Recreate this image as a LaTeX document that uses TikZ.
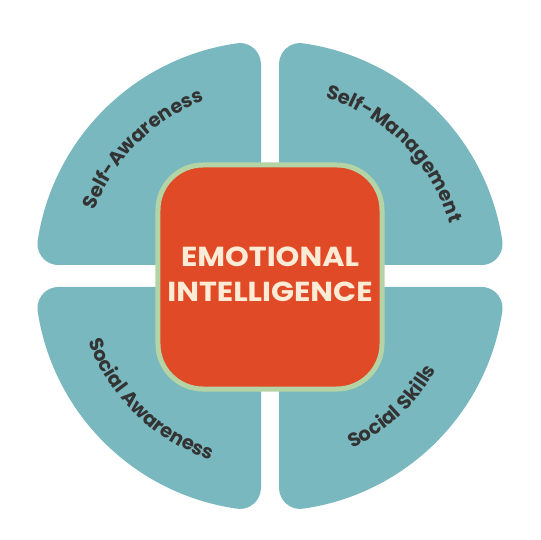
\documentclass[tikz,border=0pt]{standalone}
\usepackage{fontspec}
\setmainfont{Poppins}
\usetikzlibrary{decorations.text}
\definecolor{petal}{HTML}{7AB8BF}
\definecolor{core}{HTML}{E04A27}
\definecolor{rim}{HTML}{B4D4A6}
\definecolor{cream}{HTML}{FDEBD5}
\definecolor{ink}{HTML}{333333}
% geometry in units of 10px
\pgfmathsetmacro\Rr{23.5}
\pgfmathsetmacro\rr{2.1}
\pgfmathsetmacro\gx{0.9}
\pgfmathsetmacro\gy{1.1}
\pgfmathsetmacro\yA{10*sqrt((\Rr-\rr)^2-(\gx+\rr)^2)}
\pgfmathsetmacro\tA{atan2(\yA/10,-(\gx+\rr))}
\pgfmathsetmacro\xB{-10*sqrt((\Rr-\rr)^2-(\gy+\rr)^2)}
\pgfmathsetmacro\tB{atan2(\gy+\rr,\xB/10)}
\pgfmathsetmacro\gxp{10*\gx}
\pgfmathsetmacro\gyp{10*\gy}
\pgfmathsetmacro\rp{10*\rr}
\pgfmathsetmacro\Rp{10*\Rr}
\newcommand{\labelfont}{\fontsize{19.5}{19.5}\selectfont\bfseries\color{ink}}
\newcommand{\petalshape}[2]{%
  \begin{scope}[xscale=#1,yscale=#2]
    \fill[petal] (-\gxp,\gyp) -- (-\gxp,\yA)
      arc[start angle=0,end angle=\tA,radius=\rp]
      arc[start angle=\tA,end angle=\tB,radius=\Rp]
      arc[start angle=\tB,end angle=270,radius=\rp] -- cycle;
  \end{scope}}
\tikzset{
  corebox/.style={draw=rim,line width=5pt,fill=core,rounded corners=45pt,minimum size=224pt,inner sep=0pt},
  titletext/.style={text=cream,font=\fontsize{27.5}{35}\selectfont\bfseries,align=center,inner sep=0pt},
  arclabel/.style={decorate,decoration={text along path,text align=center,text={|\labelfont|#1}}}
}
\begin{document}
\begin{tikzpicture}[x=1pt,y=1pt]
\useasboundingbox (-270,-264) rectangle (270,276);
\fill[white] (-270,-264) rectangle (270,276);
\petalshape{1}{1}
\petalshape{-1}{1}
\petalshape{1}{-1}
\petalshape{-1}{-1}
\path[arclabel={Self-Awareness}] (195:187) arc[start angle=195,end angle=75,radius=187];
\path[arclabel={Self-Management}] (104.5:187) arc[start angle=104.5,end angle=-15.5,radius=187];
\path[arclabel={Social Awareness}] (166:193) arc[start angle=166,end angle=286,radius=193];
\path[arclabel={Social Skills}] (253:191) arc[start angle=253,end angle=373,radius=191];
\node[corebox] (core) at (0,-1) {};
\node[titletext] (title) at (0,1.5) {\scalebox{1.1}[1]{EMOTIONAL}\\\scalebox{1.1}[1]{INTELLIGENCE}};
\end{tikzpicture}
\end{document}
